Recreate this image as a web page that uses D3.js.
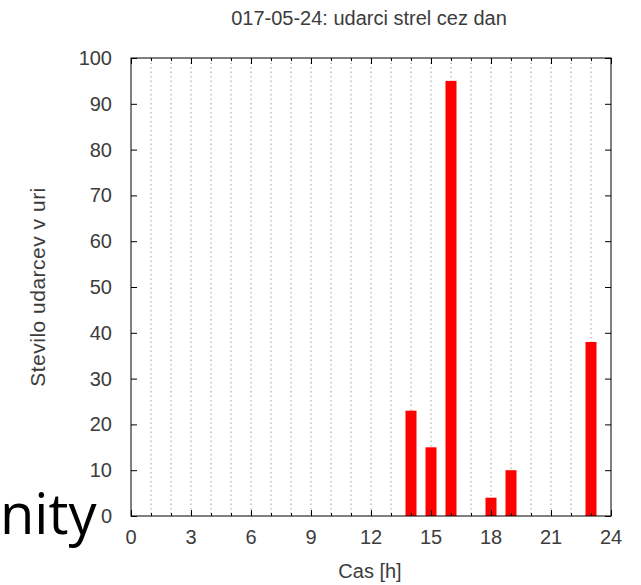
<!DOCTYPE html>
<html>
<head>
<meta charset="utf-8">
<script src="https://cdn.jsdelivr.net/npm/d3@7"></script>
<style>
  body { margin: 0; background: #fff; }
  text { font-family: "Liberation Sans", Arial, sans-serif; fill: #3c3c3c; }
</style>
</head>
<body>
<div id="chart"></div>
<script>
// data
const hours = [14, 15, 16, 18, 19, 23];
const counts = [23, 15, 95, 4, 10, 38];
const xTicks = [0, 3, 6, 9, 12, 15, 18, 21, 24];
const yTicks = [0, 10, 20, 30, 40, 50, 60, 70, 80, 90, 100];
const title = "017-05-24: udarci strel cez dan";
const xLabel = "Cas [h]";
const yLabel = "Stevilo udarcev v uri";

const W = 641, H = 585;
const margin = {top: 58, right: 30, bottom: 69, left: 131};
const width = W - margin.left - margin.right;
const height = H - margin.top - margin.bottom;

const svg = d3.select("#chart").append("svg")
    .attr("width", W)
    .attr("height", H);

// leftover text from the page behind the chart
svg.append("text")
    .attr("x", 0)
    .attr("y", 534)
    .style("font-family", "'Open Sans', sans-serif")
    .style("font-size", "56px")
    .style("fill", "#000")
    .text("nity");

const g = svg.append("g")
    .attr("transform", `translate(${margin.left},${margin.top})`);

let x = d3.scaleLinear().domain([0, 24]).range([0, width]);
let y = d3.scaleLinear().domain([0, 100]).range([height, 0]);

// dotted grid at every hour
g.selectAll(".grid")
    .data(d3.range(1, 24))
    .enter().append("line")
    .attr("class", "grid")
    .attr("x1", d => x(d)).attr("x2", d => x(d))
    .attr("y1", 0).attr("y2", height)
    .attr("stroke", "#a0a0a0")
    .attr("stroke-width", 1)
    .attr("stroke-dasharray", "1.5,3");

// bars
const barW = x(0.55) - x(0);
g.selectAll(".bar")
    .data(hours)
    .enter().append("rect")
    .attr("class", "bar")
    .attr("x", (d) => x(d) - barW / 2)
    .attr("y", (d, i) => y(counts[i]))
    .attr("width", barW)
    .attr("height", (d, i) => height - y(counts[i]))
    .attr("fill", "#ff0000");

// axes, gnuplot style: ticks inside, mirrored
function tickAxis(axis, scale, ticks, size) {
    return axis(scale).tickValues(ticks).tickSize(size).tickFormat("");
}

g.append("g").attr("transform", `translate(0,${height})`)
    .call(tickAxis(d3.axisTop, x, d3.range(0, 25), 3));
g.append("g").attr("transform", `translate(0,${height})`)
    .call(tickAxis(d3.axisTop, x, xTicks, 6));
g.append("g")
    .call(tickAxis(d3.axisBottom, x, d3.range(0, 25), 3));
g.append("g")
    .call(tickAxis(d3.axisBottom, x, xTicks, 6));
g.append("g")
    .call(tickAxis(d3.axisRight, y, yTicks, 6));
g.append("g").attr("transform", `translate(${width},0)`)
    .call(tickAxis(d3.axisLeft, y, yTicks, 6));

g.selectAll(".domain").remove();
g.selectAll(".tick line").attr("stroke", "#000");

// frame
g.append("rect")
    .attr("width", width)
    .attr("height", height)
    .attr("fill", "none")
    .attr("stroke", "#000")
    .attr("stroke-width", 1);

// tick labels
g.selectAll(".xlab")
    .data(xTicks)
    .enter().append("text")
    .attr("x", d => x(d))
    .attr("y", height + 28)
    .attr("text-anchor", "middle")
    .style("font-size", "20px")
    .text(d => d);

g.selectAll(".ylab")
    .data(yTicks)
    .enter().append("text")
    .attr("x", -19)
    .attr("y", d => y(d) + 7)
    .attr("text-anchor", "end")
    .style("font-size", "20px")
    .text(d => d);

// titles
svg.append("text")
    .attr("x", 369)
    .attr("y", 25)
    .attr("text-anchor", "middle")
    .style("font-size", "20px")
    .text(title);

svg.append("text")
    .attr("x", 370)
    .attr("y", 578)
    .attr("text-anchor", "middle")
    .style("font-size", "20px")
    .text(xLabel);

svg.append("text")
    .attr("transform", "translate(45,287) rotate(-90)")
    .attr("text-anchor", "middle")
    .style("font-size", "21px")
    .style("letter-spacing", "0.5px")
    .text(yLabel);
</script>
</body>
</html>
